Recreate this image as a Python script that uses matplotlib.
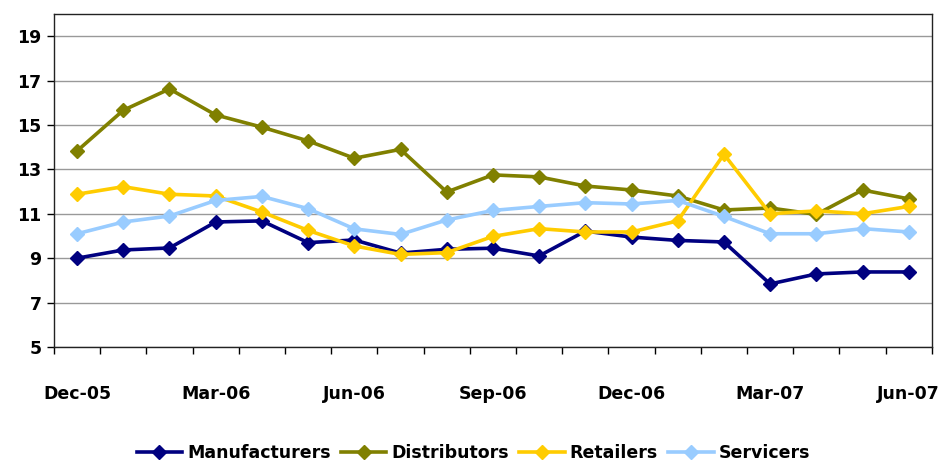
import matplotlib
matplotlib.use('Agg')
import matplotlib.pyplot as plt
import numpy as np

months = ['Dec-05', 'Jan-06', 'Feb-06', 'Mar-06', 'Apr-06', 'May-06', 'Jun-06',
          'Jul-06', 'Aug-06', 'Sep-06', 'Oct-06', 'Nov-06', 'Dec-06', 'Jan-07',
          'Feb-07', 'Mar-07', 'Apr-07', 'May-07', 'Jun-07']
manufacturers = [9.0, 9.37, 9.46, 10.63, 10.68, 9.7, 9.82, 9.23, 9.4, 9.45, 9.1,
                 10.22, 9.95, 9.8, 9.73, 7.84, 8.29, 8.38, 8.38]
distributors = [13.83, 15.66, 16.62, 15.45, 14.9, 14.28, 13.5, 13.9, 11.98, 12.75,
                12.66, 12.25, 12.07, 11.8, 11.17, 11.26, 10.97, 12.07, 11.67]
retailers = [11.88, 12.22, 11.88, 11.8, 11.08, 10.25, 9.55, 9.17, 9.25, 9.98,
             10.33, 10.18, 10.18, 10.68, 13.68, 11.0, 11.13, 11.0, 11.33]
servicers = [10.1, 10.63, 10.9, 11.6, 11.78, 11.23, 10.32, 10.07, 10.72, 11.15,
             11.33, 11.5, 11.44, 11.6, 10.88, 10.1, 10.1, 10.33, 10.18]

series = [('Manufacturers', manufacturers, '#000080'),
          ('Distributors', distributors, '#808000'),
          ('Retailers', retailers, '#FFCC00'),
          ('Servicers', servicers, '#99CCFF')]

plt.rcParams['font.family'] = ['DejaVu Sans']
fig = plt.figure(figsize=(9.47, 4.63), dpi=100)
ax = fig.add_axes([0.057, 0.2505, 0.927, 0.7195])

x = np.arange(len(months))
for name, vals, col in series:
  ax.plot(x, vals, color=col, lw=2.6, marker='D', ms=7.5, label=name)

ax.set_xlim(-0.5, len(months) - 0.5)
ax.set_ylim(5, 20)
ax.set_yticks(np.arange(5, 20, 2))
ax.yaxis.grid(True, color='#999999', lw=1)
ax.set_axisbelow(True)

major = list(range(0, len(months), 3))
ax.set_xticks(major)
ax.set_xticklabels([months[i] for i in major])
ax.set_xticks(np.arange(-0.5, len(months), 1), minor=True)
ax.tick_params(axis='x', which='major', length=0, pad=27)
ax.tick_params(axis='x', which='minor', length=5, width=1, direction='out')
ax.tick_params(axis='y', length=5, width=1, direction='out', pad=4)
for lab in ax.get_xticklabels() + ax.get_yticklabels():
  lab.set_fontsize(12.5)
  lab.set_fontweight('bold')
for s in ax.spines.values():
  s.set_color('#222222')
  s.set_linewidth(1)

fig.legend(loc='center', bbox_to_anchor=(0.5, 0.022), ncol=4, frameon=False,
           prop={'weight': 'bold', 'size': 12.5}, handlelength=2.6,
           columnspacing=0.6, handletextpad=0.3, borderpad=0)

fig.savefig('out.png', dpi=100)
